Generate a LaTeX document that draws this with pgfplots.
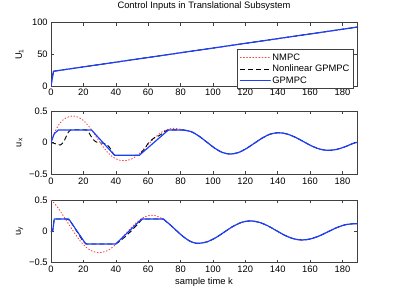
\documentclass[border=0pt]{standalone}
\usepackage{fontspec}
\setmainfont{Liberation Sans}
\usepackage{pgfplots}
\pgfplotsset{compat=1.18}
\definecolor{mblue}{rgb}{0.1,0.25,1}
\definecolor{mred}{rgb}{1,0.25,0.25}
\newcommand{\fs}{\fontsize{9.4}{11}\selectfont}
\pgfplotsset{
  myax/.style={
    scale only axis, width=306bp,
    xmin=0, xmax=189,
    xtick={0,20,...,180},
    major tick length=3bp,
    tick style={black!75, line width=0.5bp},
    axis line style={black!75, line width=0.6bp},
    tick label style={font=\fs},
    label style={font=\fs},
    /pgf/number format/assume math mode=true,
    ylabel style={at={(axis description cs:-0.103,0.5)}, anchor=center},
    anchor=south west,
  },
  nm/.style={mred, line width=0.9bp, dash pattern=on 0.9bp off 2.2bp, line cap=round},
  ngp/.style={black, line width=0.9bp, dash pattern=on 5bp off 3bp},
  gp/.style={mblue, line width=1.2bp, line cap=round, line join=round},
}
\begin{document}
\fs
\begin{tikzpicture}
\path[use as bounding box] (0bp,0bp) rectangle (395bp,296bp);
% ---------------- top: U1
\begin{axis}[myax, at={(51bp,210bp)}, height=63.3bp,
  ymin=0, ymax=100, ytick={0,50,100},
  ylabel={U\textsubscript{1}},
  title={Control Inputs in Translational Subsystem},
  title style={font=\fs, at={(axis description cs:0.5,1.174)}, anchor=center},
  legend style={at={(0.988,0.58)}, anchor=north east, draw=black!75, fill=white,
    line width=0.5bp, font=\fs, inner xsep=2.1bp, inner ysep=2.2bp,
    nodes={inner xsep=1.5bp, inner ysep=1.5bp, text height=6.8bp, text depth=1.7bp},
    cells={anchor=west}, row sep=0bp},
  legend image code/.code={\draw[#1] (0bp,0bp) -- (30bp,0bp);},
]
\addplot[nm] coordinates {(0,0) (1.5,23.3) (189,93)};
\addlegendentry{NMPC}
\addplot[ngp] coordinates {(0,0) (1.5,23.3) (189,93)};
\addlegendentry{Nonlinear GPMPC}
\addplot[gp] coordinates {(0,0) (1.5,23.3) (189,93)};
\addlegendentry{GPMPC}
\end{axis}
% ---------------- middle: ux
\begin{axis}[myax, at={(51bp,121.7bp)}, height=63.3bp,
  ymin=-0.5, ymax=0.5, ytick={-0.5,0,0.5}, yticklabels={−0.5,0,0.5},
  ylabel={u\textsubscript{x}},
]
\addplot[nm, smooth] coordinates {(0,0.01) (2,0.15) (5,0.29) (8,0.37) (11,0.41) (14,0.42) (17,0.40) (20,0.35) (23,0.27) (26,0.17) (29,0.05) (32,-0.06) (35,-0.155) (38,-0.225) (41,-0.265) (44,-0.285) (47,-0.28) (50,-0.255) (53,-0.205) (56,-0.135) (59,-0.055) (62,0.025) (65,0.1) (68,0.16) (71,0.2) (74,0.222) (77,0.225) (80,0.212) (83,0.19) (86.5,0.1745) (91.3,0.105) (96.2,0.01) (101,-0.085) (105.8,-0.1545) (110.6,-0.18) (115.6,-0.1575) (120.5,-0.0958) (125.5,-0.0115) (130.5,0.0728) (135.4,0.1345) (140.4,0.157) (145.6,0.1383) (150.7,0.0873) (155.9,0.0175) (161,-0.0523) (166.2,-0.1033) (171.3,-0.122) (176.4,-0.107) (181.5,-0.0665) (186.6,-0.0117) (189,0.005)};
\addplot[ngp, smooth, tension=0.3] coordinates {(0,0) (2,-0.01) (4,-0.03) (6,-0.035) (8,0.02) (10,0.13) (12,0.2) (22,0.2) (24,0.13) (26,0.05) (28,0.01) (31,-0.005) (34,-0.02) (36,-0.07) (38,-0.15) (39.5,-0.2) (54.5,-0.2) (56,-0.15) (58,-0.09) (60,-0.01) (62,0.04) (64,0.08) (66,0.1) (68,0.13) (70,0.17) (72.5,0.2) (81.7,0.2)};
\addplot[ngp, smooth] coordinates {(81.7,0.2) (86.5,0.1745) (91.3,0.105) (96.2,0.01) (101,-0.085) (105.8,-0.1545) (110.6,-0.18) (115.6,-0.1575) (120.5,-0.0958) (125.5,-0.0115) (130.5,0.0728) (135.4,0.1345) (140.4,0.157) (145.6,0.1383) (150.7,0.0873) (155.9,0.0175) (161,-0.0523) (166.2,-0.1033) (171.3,-0.122) (176.4,-0.107) (181.5,-0.0665) (186.6,-0.0117) (189,0.005)};
\addplot[gp] coordinates {(0,0) (2,0.14) (4.5,0.2) (25,0.2) (39.3,-0.2) (54.5,-0.2) (72.5,0.2) (81.7,0.2)};
\addplot[gp, smooth] coordinates {(81.7,0.2) (86.5,0.1745) (91.3,0.105) (96.2,0.01) (101,-0.085) (105.8,-0.1545) (110.6,-0.18) (115.6,-0.1575) (120.5,-0.0958) (125.5,-0.0115) (130.5,0.0728) (135.4,0.1345) (140.4,0.157) (145.6,0.1383) (150.7,0.0873) (155.9,0.0175) (161,-0.0523) (166.2,-0.1033) (171.3,-0.122) (176.4,-0.107) (181.5,-0.0665) (186.6,-0.0117) (189,0.005)};
\end{axis}
% ---------------- bottom: uy
\begin{axis}[myax, at={(51bp,33.3bp)}, height=62.4bp,
  ymin=-0.5, ymax=0.5, ytick={-0.5,0,0.5}, yticklabels={−0.5,0,0.5},
  ylabel={u\textsubscript{y}},
  xlabel={sample time k},
  xlabel style={at={(axis description cs:0.5,-0.314)}, anchor=center},
]
\addplot[nm, smooth] coordinates {(0,0.5) (2,0.455) (4,0.39) (6,0.315) (8,0.235) (10,0.155) (12,0.075) (14,-0.005) (16,-0.08) (18,-0.15) (20,-0.21) (22,-0.26) (24,-0.295) (26,-0.32) (28,-0.335) (30,-0.34) (34,-0.317) (38,-0.252) (42,-0.155) (46,-0.04) (50,0.075) (54,0.172) (58,0.237) (62,0.26) (65,0.25) (68,0.215) (71,0.17) (73,0.121) (77,0.026) (81,-0.068) (85,-0.143) (88,-0.178) (91,-0.19) (96.3,-0.166) (101.7,-0.10) (107,-0.01) (112.3,0.08) (117.7,0.146) (123,0.17) (128.3,0.1495) (133.7,0.0935) (139,0.017) (144.3,-0.0595) (149.7,-0.1155) (155,-0.136) (160.3,-0.1185) (165.7,-0.0708) (171,-0.0055) (176.3,0.0598) (181.7,0.1075) (187,0.125) (189,0.124)};
\addplot[ngp] coordinates {(0,0) (1,0) (2,0.2) (10,0.2) (12,0.165) (16,0.0) (20,-0.165) (22,-0.2) (40,-0.2) (42,-0.165) (46,-0.08) (50,0.02) (54,0.13) (56,0.19) (57,0.2) (69.4,0.2)};
\addplot[ngp, smooth] coordinates {(69.4,0.2) (71,0.163) (73,0.121) (77,0.026) (81,-0.068) (85,-0.143) (88,-0.178) (91,-0.19) (96.3,-0.166) (101.7,-0.10) (107,-0.01) (112.3,0.08) (117.7,0.146) (123,0.17) (128.3,0.1495) (133.7,0.0935) (139,0.017) (144.3,-0.0595) (149.7,-0.1155) (155,-0.136) (160.3,-0.1185) (165.7,-0.0708) (171,-0.0055) (176.3,0.0598) (181.7,0.1075) (187,0.125) (189,0.124)};
\addplot[gp] coordinates {(0,0) (1,0) (2,0.2) (11,0.2) (21.5,-0.2) (40,-0.2) (56,0.2) (69.4,0.2)};
\addplot[gp, smooth] coordinates {(69.4,0.2) (71,0.163) (73,0.121) (77,0.026) (81,-0.068) (85,-0.143) (88,-0.178) (91,-0.19) (96.3,-0.166) (101.7,-0.10) (107,-0.01) (112.3,0.08) (117.7,0.146) (123,0.17) (128.3,0.1495) (133.7,0.0935) (139,0.017) (144.3,-0.0595) (149.7,-0.1155) (155,-0.136) (160.3,-0.1185) (165.7,-0.0708) (171,-0.0055) (176.3,0.0598) (181.7,0.1075) (187,0.125) (189,0.124)};
\end{axis}
\end{tikzpicture}
\end{document}
